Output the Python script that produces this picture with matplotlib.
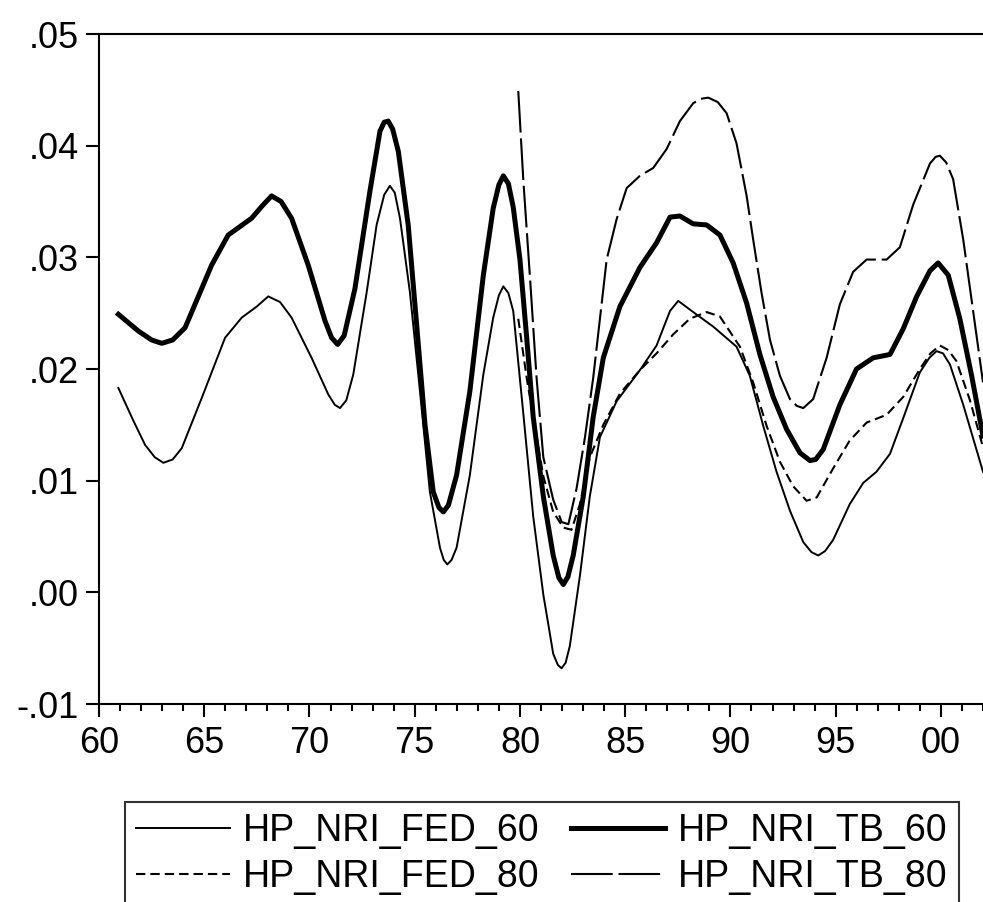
import matplotlib
matplotlib.use("Agg")
import matplotlib.pyplot as plt
from matplotlib.ticker import MultipleLocator

plt.rcParams['font.family'] = ['Liberation Sans', 'DejaVu Sans']

# HP_NRI_FED_60 (thin solid)
fed60_x = [60.92, 61.6, 62.19, 62.65, 63.06, 63.5, 63.93, 64.88, 65.99, 66.78, 67.5, 68.04, 68.6, 69.15,
           70.10, 70.90, 71.2, 71.45, 71.75, 72.08, 72.72, 73.19, 73.55, 73.82, 74.05, 74.30, 74.77,
           75.25, 75.72, 76.20, 76.38, 76.55, 76.75, 76.99, 77.62, 78.26, 78.73, 79.0, 79.21, 79.45,
           79.68, 80.16, 80.63, 81.11, 81.58, 81.8, 81.98, 82.17, 82.37, 82.85, 83.32, 83.80, 84.59,
           85.70, 86.49, 87.13, 87.52, 88.23, 89.18, 90.29, 90.92, 91.56, 92.19, 92.83, 93.46,
           93.85, 94.17, 94.5, 94.88, 95.67, 96.31, 96.94, 97.58, 98.21, 99.00, 99.45, 99.79,
           100.1, 100.43, 101.06, 102.00]
fed60_y = [0.0183, 0.0155, 0.0132, 0.0121, 0.0116, 0.0119, 0.0129, 0.0174, 0.0228, 0.0246, 0.0256,
           0.0265, 0.0260, 0.0246, 0.0210, 0.0177, 0.0168, 0.0165, 0.0172, 0.0195, 0.0269, 0.0329,
           0.0356, 0.0364, 0.0358, 0.0335, 0.0269, 0.0180, 0.0090, 0.0040, 0.0029, 0.0025, 0.0029,
           0.0040, 0.0105, 0.0195, 0.0246, 0.0266, 0.0274, 0.0268, 0.0252, 0.0160, 0.0068, -0.0002,
           -0.0055, -0.0065, -0.0068, -0.0063, -0.0048, 0.0015, 0.0086, 0.0139, 0.0171, 0.0199,
           0.0221, 0.0252, 0.0261, 0.0251, 0.0238, 0.0220, 0.0194, 0.0149, 0.0108, 0.0073, 0.0045,
           0.0036, 0.0033, 0.0037, 0.0047, 0.0079, 0.0098, 0.0108, 0.0124, 0.0156, 0.0197, 0.0210,
           0.0216, 0.0214, 0.0204, 0.0168, 0.0108]

# HP_NRI_TB_60 (thick solid)
tb60_x = [60.92, 61.87, 62.5, 62.98, 63.5, 64.09, 65.35, 66.14, 67.25, 67.75, 68.20, 68.65, 69.15, 69.94,
          70.74, 71.05, 71.34, 71.65, 72.16, 72.87, 73.35, 73.55, 73.74, 73.95, 74.22, 74.69, 75.09,
          75.49, 75.88, 76.15, 76.36, 76.6, 76.99, 77.62, 78.26, 78.73, 79.0, 79.21, 79.45, 79.68,
          80.00, 80.32, 80.63, 81.11, 81.58, 81.85, 82.06, 82.28, 82.53, 83.01, 83.48, 83.96, 84.75,
          85.70, 86.49, 87.13, 87.60, 88.23, 88.87, 89.50, 90.13, 90.77, 91.40, 92.03, 92.67,
          93.30, 93.78, 94.05, 94.41, 95.20, 95.99, 96.78, 97.58, 98.21, 98.85, 99.48, 99.87,
          100.35, 100.90, 101.46, 102.00]
tb60_y = [0.0249, 0.0234, 0.0226, 0.0223, 0.0226, 0.0237, 0.0293, 0.0320, 0.0335, 0.0346, 0.0355,
          0.0350, 0.0335, 0.0293, 0.0243, 0.0228, 0.0222, 0.0230, 0.0272, 0.0359, 0.0413, 0.0421,
          0.0422, 0.0415, 0.0395, 0.0329, 0.0240, 0.0150, 0.0090, 0.0076, 0.0072, 0.0078, 0.0105,
          0.0180, 0.0284, 0.0344, 0.0365, 0.0373, 0.0366, 0.0345, 0.0298, 0.0228, 0.0157, 0.0086,
          0.0033, 0.0013, 0.0007, 0.0014, 0.0033, 0.0086, 0.0157, 0.0210, 0.0256, 0.0291, 0.0313,
          0.0336, 0.0337, 0.0330, 0.0329, 0.0320, 0.0295, 0.0259, 0.0213, 0.0175, 0.0146, 0.0125,
          0.0118, 0.0119, 0.0128, 0.0168, 0.0200, 0.0210, 0.0213, 0.0236, 0.0265, 0.0288, 0.0295,
          0.0284, 0.0245, 0.0194, 0.0140]

# HP_NRI_FED_80 (short dash)
fed80_x = [79.92, 80.32, 80.63, 81.11, 81.58, 82.06, 82.45, 82.85, 83.32, 83.96, 84.75, 85.70,
           86.49, 87.28, 88.07, 88.87, 89.50, 90.45, 91.08, 91.72, 92.35, 92.98, 93.62, 94.10,
           94.88, 95.67, 96.47, 97.42, 98.21, 99.00, 99.5, 99.95, 100.35, 100.74, 101.38, 102.00]
fed80_y = [0.0245, 0.0192, 0.0157, 0.0104, 0.0072, 0.0058, 0.0056, 0.0079, 0.0121, 0.0150, 0.0178,
           0.0199, 0.0214, 0.0231, 0.0245, 0.0251, 0.0247, 0.0220, 0.0188, 0.0149, 0.0117, 0.0095,
           0.0082, 0.0085, 0.0111, 0.0136, 0.0152, 0.0159, 0.0175, 0.0200, 0.0214, 0.0221, 0.0217,
           0.0207, 0.0172, 0.0130]

# HP_NRI_TB_80 (long dash)
tb80_x = [79.92, 80.16, 80.48, 80.79, 81.11, 81.58, 81.98, 82.30, 82.69, 83.09, 83.48, 83.80,
          84.12, 84.59, 85.07, 85.70, 86.33, 86.97, 87.60, 88.23, 88.6, 88.95, 89.4, 89.82, 90.29,
          90.77, 91.08, 91.48, 91.88, 92.35, 92.83, 93.15, 93.46, 93.93, 94.57, 95.20, 95.83,
          96.47, 97.42, 98.05, 98.68, 99.48, 99.75, 99.95, 100.25, 100.58, 101.06, 101.53, 102.00]
tb80_y = [0.0449, 0.0369, 0.0281, 0.0192, 0.0121, 0.0083, 0.0063, 0.0061, 0.0093, 0.0139, 0.0192,
          0.0245, 0.0298, 0.0334, 0.0362, 0.0373, 0.0380, 0.0397, 0.0422, 0.0438, 0.0442, 0.0443,
          0.0439, 0.0429, 0.0402, 0.0355, 0.0316, 0.0268, 0.0226, 0.0194, 0.0173, 0.0167, 0.0165,
          0.0173, 0.0210, 0.0258, 0.0287, 0.0298, 0.0298, 0.0309, 0.0347, 0.0384, 0.0390, 0.0391,
          0.0385, 0.0370, 0.0316, 0.0252, 0.0188]

xtick_pos = [60, 65, 70, 75, 80, 85, 90, 95, 100]
xtick_labels = ['60', '65', '70', '75', '80', '85', '90', '95', '00']
ytick_pos = [-0.01, 0.00, 0.01, 0.02, 0.03, 0.04, 0.05]
ytick_labels = ['-.01', '.00', '.01', '.02', '.03', '.04', '.05']

fig = plt.figure(figsize=(9.83, 9.02), dpi=100)
ax = fig.add_axes([99 / 983, 1 - 704 / 902, 1 - 99 / 983, (704 - 34) / 902])

style = dict(color='black', solid_joinstyle='round', dash_joinstyle='round')
l1, = ax.plot(fed60_x, fed60_y, lw=1.4, label='HP_NRI_FED_60', **style)
l2, = ax.plot(tb60_x, tb60_y, lw=3.6, label='HP_NRI_TB_60', **style)
l3, = ax.plot(fed80_x, fed80_y, lw=1.5, dashes=(4.5, 2.4), label='HP_NRI_FED_80', **style)
l4, = ax.plot(tb80_x, tb80_y, lw=1.5, dashes=(20, 2.8), label='HP_NRI_TB_80', **style)

ax.set_xlim(60, 102.0)
ax.set_ylim(-0.01, 0.05)
ax.spines['right'].set_visible(False)
for s in ['left', 'top', 'bottom']:
    ax.spines[s].set_linewidth(1.5)

ax.set_xticks(xtick_pos)
ax.set_xticklabels(xtick_labels)
ax.xaxis.set_minor_locator(MultipleLocator(1))
ax.set_yticks(ytick_pos)
ax.set_yticklabels(ytick_labels)
ax.tick_params(axis='both', which='major', direction='out', length=9.5, width=1.5,
               labelsize=26, pad=5)
ax.tick_params(axis='x', which='minor', direction='out', length=5, width=1.5)
ax.tick_params(axis='x', which='major', pad=6)

leg = fig.legend([l1, l3, l2, l4], ['HP_NRI_FED_60', 'HP_NRI_FED_80', 'HP_NRI_TB_60', 'HP_NRI_TB_80'],
                 ncol=2, loc='upper left', bbox_to_anchor=(125 / 983, 1 - 802 / 902),
                 borderaxespad=0, fontsize=27, frameon=True, fancybox=False, edgecolor='black',
                 handlelength=2.5, handletextpad=0.35, columnspacing=0.83,
                 borderpad=0.3, labelspacing=0.25)
leg.get_frame().set_linewidth(1.5)

fig.savefig('out.png', dpi=100)
